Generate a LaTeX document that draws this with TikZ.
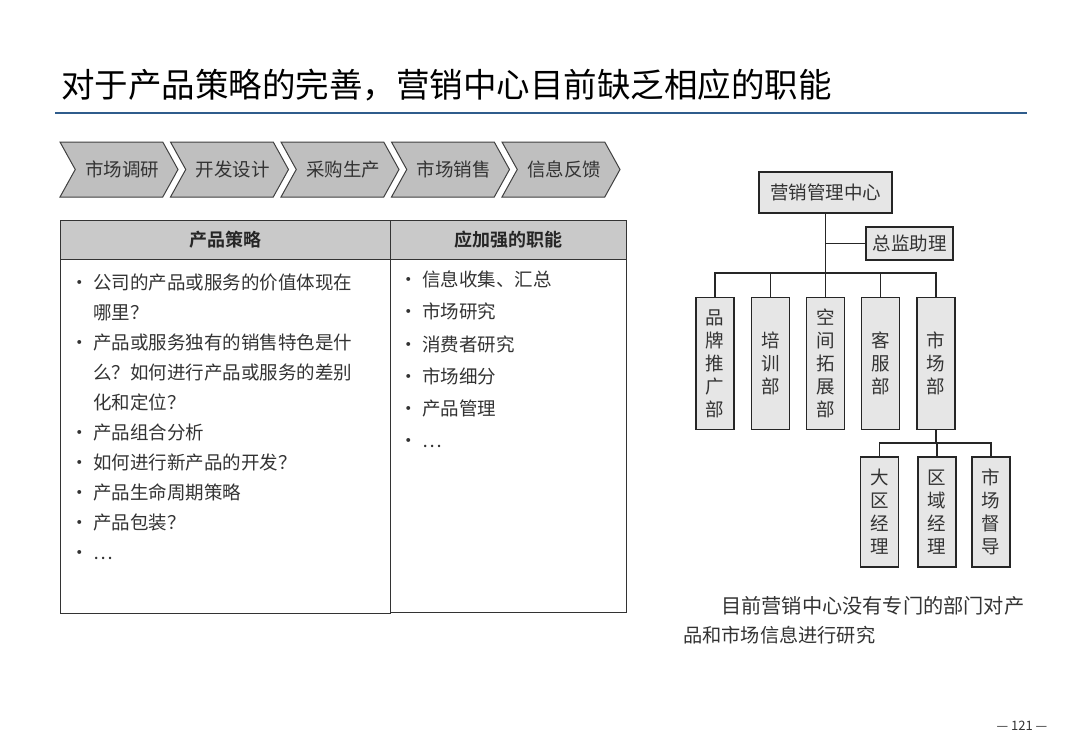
\documentclass[tikz,border=0pt]{standalone}
\usepackage{fontspec}
\setmainfont{Noto Sans CJK SC}[BoldFont={Noto Sans CJK SC Bold}]
\usetikzlibrary{shapes.symbols}

\definecolor{titleblue}{HTML}{2F5C8C}
\definecolor{chevgray}{HTML}{BFBFBF}
\definecolor{headgray}{HTML}{C9C9C9}
\definecolor{boxgray}{HTML}{E6E6E6}
\definecolor{inkgray}{HTML}{333333}

\tikzset{
  chev/.style={signal, signal from=west, signal to=east, signal pointer angle=122,
    draw=black!75, fill=chevgray, line width=1pt, minimum width=118pt, minimum height=55pt,
    inner sep=0pt, font=\fontsize{18.5}{20}\selectfont, text=inkgray},
  headcell/.style={rectangle, draw=black!80, fill=headgray, line width=1pt, minimum height=39pt,
    inner sep=0pt, font=\fontsize{18}{20}\selectfont\bfseries, text=black!85},
  bodycell/.style={rectangle, draw=black!80, line width=1pt, inner sep=0pt},
  orgbox/.style={rectangle, draw=black!85, fill=boxgray, line width=1.3pt, inner sep=0pt,
    font=\fontsize{18.5}{20}\selectfont, text=inkgray},
  deptbox/.style={orgbox, minimum width=38pt, align=center, font=\fontsize{18.5}{23}\selectfont},
  orgline/.style={draw=black!85, line width=1.5pt},
  itemlist/.style={anchor=north west, inner sep=0pt, text=inkgray},
}

\newcommand{\bul}{\makebox[23pt][l]{•}}
\newcommand{\cont}{\hspace*{23pt}}

\begin{document}
\begin{tikzpicture}[x=1pt, y=-1pt]
  \useasboundingbox (0,0) rectangle (1080,748);

  % Title
  \node[anchor=west, inner sep=0pt, font=\fontsize{33.5}{36}\selectfont] (title) at (61,85)
    {对于产品策略的完善，营销中心目前缺乏相应的职能};
  \coordinate (ruleL) at (55,113);
  \coordinate (ruleR) at (1027,113);
  \draw[titleblue, line width=1.6pt] (ruleL) -- (ruleR);

  % Value chain
  \foreach \i/\txt in {0/市场调研, 1/开发设计, 2/采购生产, 3/市场销售, 4/信息反馈} {
    \node[chev] (chev\i) at (119+110.5*\i, 169.5) {\hspace*{6pt}\txt};
  }

  % Table: left column
  \node[headcell, minimum width=330pt] (hdStrat) at (225,239.5) {产品策略};
  \node[bodycell, minimum width=330pt, minimum height=354pt] (bdStrat) at (225,436) {};
  % Table: right column
  \node[headcell, minimum width=236pt] (hdFunc) at (508,239.5) {应加强的职能};
  \node[bodycell, minimum width=236pt, minimum height=353pt] (bdFunc) at (508,435.5) {};

  \node[itemlist, font=\fontsize{18.5}{30}\selectfont] (listStrat) at (70,268) {%
    \begin{tabular}{@{}l@{}}
      \bul 公司的产品或服务的价值体现在\\
      \cont 哪里？\\
      \bul 产品或服务独有的销售特色是什\\
      \cont 么？如何进行产品或服务的差别\\
      \cont 化和定位？\\
      \bul 产品组合分析\\
      \bul 如何进行新产品的开发？\\
      \bul 产品生命周期策略\\
      \bul 产品包装？\\
      \bul …
    \end{tabular}};
  \node[itemlist, font=\fontsize{18.5}{32.2}\selectfont] (listFunc) at (399,264) {%
    \begin{tabular}{@{}l@{}}
      \bul 信息收集、汇总\\
      \bul 市场研究\\
      \bul 消费者研究\\
      \bul 市场细分\\
      \bul 产品管理\\
      \bul …
    \end{tabular}};

  % Org chart
  \node[orgbox, minimum width=133pt, minimum height=41pt] (center) at (825.5,192.5) {营销管理中心};
  \node[orgbox, minimum width=87pt, minimum height=33pt] (assist) at (909.5,243.5) {总监助理};
  \coordinate (bus) at (825.5,273);

  \node[deptbox, minimum height=132pt] (brand) at (715,363.5) {品\\牌\\推\\广\\部};
  \node[deptbox, minimum height=132pt] (train) at (770.5,363.5) {培\\训\\部};
  \node[deptbox, minimum height=132pt] (space) at (825.5,363.5) {空\\间\\拓\\展\\部};
  \node[deptbox, minimum height=132pt] (service) at (880.5,363.5) {客\\服\\部};
  \node[deptbox, minimum height=132pt] (market) at (936,363.5) {市\\场\\部};

  \coordinate (subbus) at (936,443);
  \node[deptbox, minimum height=110pt] (region) at (879.5,512) {大\\区\\经\\理};
  \node[deptbox, minimum height=110pt] (area) at (937,512) {区\\域\\经\\理};
  \node[deptbox, minimum height=110pt] (super) at (991,512) {市\\场\\督\\导};

  \draw[orgline] (center) |- (assist);
  \draw[orgline] (center) -- (bus);
  \foreach \d in {brand, train, space, service, market} {
    \draw[orgline] (bus) -| (\d);
  }
  \draw[orgline] (market) -- (subbus);
  \foreach \d in {region, area, super} {
    \draw[orgline] (subbus) -| (\d);
  }

  % Note
  \node[anchor=west, inner sep=0pt, text=inkgray, font=\fontsize{20.2}{22}\selectfont] (note1) at (721,606)
    {目前营销中心没有专门的部门对产};
  \node[anchor=west, inner sep=0pt, text=inkgray, font=\fontsize{19.2}{22}\selectfont] (note2) at (683,635)
    {品和市场信息进行研究};

  % Page number
  \node[inner sep=0pt, font=\fontsize{13}{15}\selectfont, text=inkgray] (page) at (1022,726) {— 121 —};
\end{tikzpicture}
\end{document}
